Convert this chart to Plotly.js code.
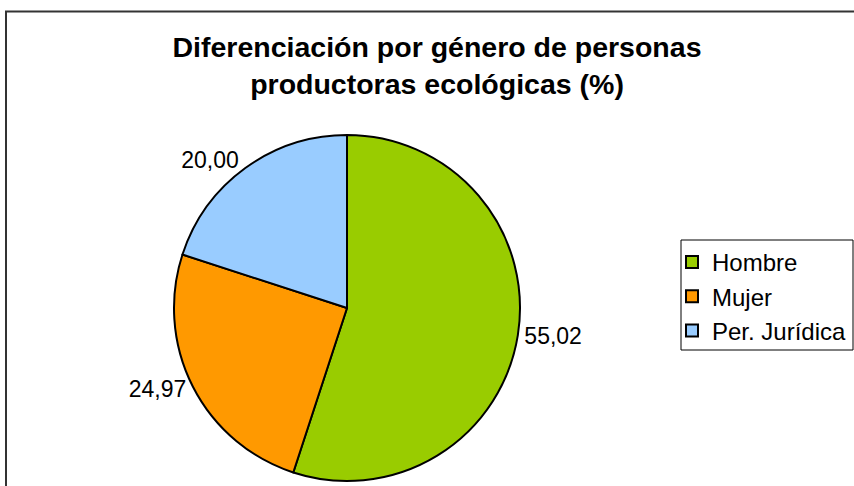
<!DOCTYPE html>
<html>
<head>
<meta charset="utf-8">
<script src="https://cdn.plot.ly/plotly-3.0.1.min.js"></script>
<style>html,body{margin:0;padding:0;background:#fff;}#chart{width:854px;height:486px;}</style>
</head>
<body>
<div id="chart"></div>
<script>
const categories = ["Hombre", "Mujer", "Per. Jurídica"];
const values = [55.02, 24.97, 20.00];
const sliceColors = ["#99CC00", "#FF9900", "#99CCFF"];
const titleText = "Diferenciación por género de personas<br>productoras ecológicas (%)";

const W = 854, H = 486;
const FONT = "Liberation Sans, Arial, sans-serif";
const trace = {
  type: "pie",
  labels: categories,
  values: values,
  sort: false,
  direction: "clockwise",
  rotation: 0,
  marker: {colors: sliceColors, line: {color: "#000000", width: 2}},
  textposition: "outside",
  texttemplate: "%{value:.2f}",
  textfont: {family: FONT, size: 23, color: "#000"},
  hoverinfo: "label+value",
  domain: {x: [174 / W, 520 / W], y: [(H - 481) / H, (H - 135) / H]}
};

const layout = {
  width: W, height: H,
  margin: {l: 0, r: 0, t: 0, b: 0},
  paper_bgcolor: "#ffffff",
  separators: ",.",
  font: {family: FONT, color: "#000"},
  title: {
    text: titleText,
    font: {family: FONT, size: 28.5, color: "#000", weight: "bold"},
    x: 437 / W, xanchor: "center", xref: "paper",
    y: 1 - 57 / H, yanchor: "top", yref: "container"
  },
  showlegend: true,
  legend: {
    x: 672 / W, xanchor: "left",
    y: 1 - 240 / H, yanchor: "top",
    borderwidth: 0,
    bgcolor: "rgba(0,0,0,0)",
    font: {family: FONT, size: 24, color: "#000"},
    traceorder: "normal",
    itemwidth: 30
  },
  shapes: [
    {
      type: "rect", xref: "paper", yref: "paper",
      x0: 6 / W, x1: 1.05, y0: -0.05, y1: 1 - 11.5 / H,
      line: {color: "#333", width: 2}, fillcolor: "rgba(0,0,0,0)", layer: "above"
    },
    {
      type: "rect", xref: "paper", yref: "paper",
      x0: 681 / W, x1: 853 / W, y0: 1 - 350 / H, y1: 1 - 240 / H,
      line: {color: "#000", width: 1}, fillcolor: "rgba(0,0,0,0)", layer: "above"
    }
  ]
};

Plotly.newPlot("chart", [trace], layout, {displayModeBar: false, staticPlot: true});
</script>
</body>
</html>
